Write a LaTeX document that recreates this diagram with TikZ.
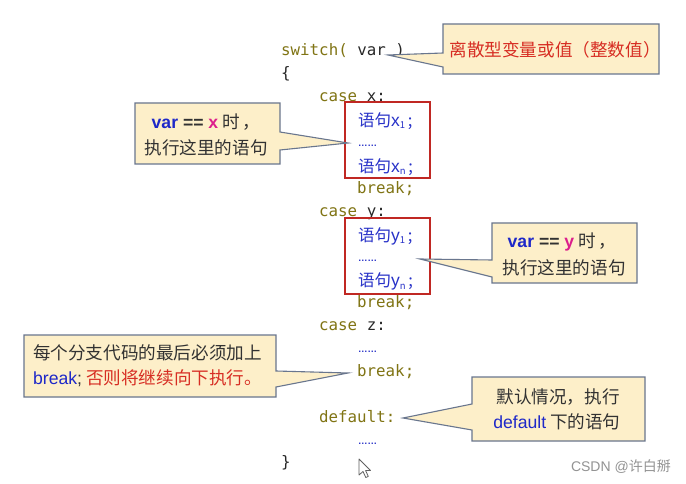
\documentclass[tikz,border=0pt]{standalone}
\usepackage{fontspec}
\newfontfamily\cjkf{Noto Sans CJK SC}
\newfontfamily\latf{Liberation Sans}
\newfontfamily\codef{DejaVu Sans Mono}

\definecolor{kwolive}{RGB}{128,116,20}
\definecolor{codedark}{RGB}{40,40,40}
\definecolor{stmtblue}{RGB}{40,50,200}
\definecolor{kwblue}{RGB}{30,40,200}
\definecolor{hlmag}{RGB}{220,30,140}
\definecolor{textdark}{RGB}{50,50,50}
\definecolor{textred}{RGB}{215,45,35}
\definecolor{boxred}{RGB}{192,40,35}
\definecolor{calloutfill}{RGB}{253,239,201}
\definecolor{calloutedge}{RGB}{105,118,142}

% one statement inside a case block: 语句 x_1;
\newcommand{\stmtline}[2]{{\cjkf 语句{\latf\fontsize{17.5}{18}\selectfont #1}\raisebox{-2.5pt}{\fontsize{9.5}{9}\selectfont #2}\,;}}

\tikzset{
  code/.style={anchor=base west, inner sep=0pt, font=\codef\fontsize{15.8}{18}\selectfont, text=codedark},
  stmt/.style={anchor=base west, inner sep=0pt, font=\cjkf\fontsize{16.5}{18}\selectfont, text=stmtblue},
  dots/.style={anchor=base west, inner sep=0pt, font=\latf\bfseries\fontsize{9.5}{9}\selectfont, text=stmtblue},
  redbox/.style={draw=boxred, line width=1.8pt, inner sep=0pt},
  callout/.style={fill=calloutfill, draw=calloutedge, line width=1.1pt, line join=miter},
  ctext/.style={inner sep=0pt, font=\cjkf\fontsize{17.6}{20}\selectfont, text=textdark},
}

\begin{document}
\begin{tikzpicture}[x=1pt,y=-1pt]
\useasboundingbox (0,0) rectangle (686,484);
\fill[white] (0,0) rectangle (686,484);

% ---- code listing ----
\node[code] (l0)  at (281,56)    {\textcolor{kwolive}{switch(} var )};
\node[code] (l1)  at (281,78.9)  {\{};
\node[code] (l2)  at (319,101.8) {\textcolor{kwolive}{case} x:};
\node[stmt] (l3)  at (358,126.5) {\stmtline{x}{1}};
\node[dots] (l4)  at (358,147)   {……};
\node[stmt] (l5)  at (358,172.3) {\stmtline{x}{n}};
\node[code,text=kwolive] (l6) at (357,193.4) {break;};
\node[code] (l7)  at (319,216.3) {\textcolor{kwolive}{case} y:};
\node[stmt] (l8)  at (358,241)   {\stmtline{y}{1}};
\node[dots] (l9)  at (358,261.5) {……};
\node[stmt] (l10) at (358,286.8) {\stmtline{y}{n}};
\node[code,text=kwolive] (l11) at (357,307.9) {break;};
\node[code] (l12) at (319,330.8) {\textcolor{kwolive}{case} z:};
\node[dots] (l13) at (358,352.5) {……};
\node[code,text=kwolive] (l14) at (357,376.6) {break;};
\node[code,text=kwolive] (l16) at (319,422.4) {default:};
\node[dots] (l17) at (358,444.5) {……};
\node[code] (l18) at (281,467.5) {\}};

% ---- highlighted case bodies ----
\node[redbox, minimum width=85pt, minimum height=76pt] (bx) at (387.5,140) {};
\node[redbox, minimum width=85pt, minimum height=76pt] (by) at (387.5,256) {};

% ---- callout pointer tips ----
\coordinate (tvar) at (388,55);
\coordinate (tx)   at (348,143);
\coordinate (ty)   at (420,259);
\coordinate (tbrk) at (348,373);
\coordinate (tdef) at (403,418);

% ---- callouts ----
\path[callout] (443,24) -- (659,24) -- (659,74) -- (443,74) -- (443,67) -- (tvar) -- (443,53) -- cycle;
\node[ctext, text=textred] (cvar) at (555,50) {离散型变量或值（整数值）};

\path[callout] (135,103) -- (280,103) -- (280,132) -- (tx) -- (280,150) -- (280,164) -- (135,164) -- cycle;
\node[ctext] (cx1) at (206,122) {{\latf\bfseries\textcolor{kwblue}{var} == \textcolor{hlmag}{x}} 时\,，};
\node[ctext] (cx2) at (206,148) {执行这里的语句};

\path[callout] (492,223) -- (637,223) -- (637,283) -- (492,283) -- (492,277) -- (ty) -- (492,260) -- cycle;
\node[ctext] (cy1) at (562,242) {{\latf\bfseries\textcolor{kwblue}{var} == \textcolor{hlmag}{y}} 时\,，};
\node[ctext] (cy2) at (564,268) {执行这里的语句};

\path[callout] (24,335) -- (276,335) -- (276,371) -- (tbrk) -- (276,387) -- (276,397) -- (24,397) -- cycle;
\node[ctext, anchor=west] (cb1) at (33,353) {每个分支代码的最后必须加上};
\node[ctext, anchor=west] (cb2) at (33,378) {{\latf\textcolor{kwblue}{break};} \textcolor{textred}{否则将继续向下执行。}};

\path[callout] (472,377) -- (645,377) -- (645,441) -- (472,441) -- (472,430) -- (tdef) -- (472,404) -- cycle;
\node[ctext] (cd1) at (558,397) {默认情况，执行};
\node[ctext] (cd2) at (557,422) {{\latf\textcolor{kwblue}{default}} 下的语句};

% ---- mouse pointer ----
\path[fill=white, draw=gray!75!black, line width=0.8pt, line join=round, shift={(359,459)}]
  (0,0) -- (0,16) -- (4,12.5) -- (6.8,18.5) -- (9.3,17.4) -- (6.6,11.6) -- (11.5,11.5) -- cycle;

% ---- watermark ----
\node[inner sep=0pt, anchor=east, text=gray!85, font=\latf\fontsize{14}{14}\selectfont] (wm) at (671,467) {CSDN @{\cjkf 许白掰}};
\end{tikzpicture}
\end{document}
